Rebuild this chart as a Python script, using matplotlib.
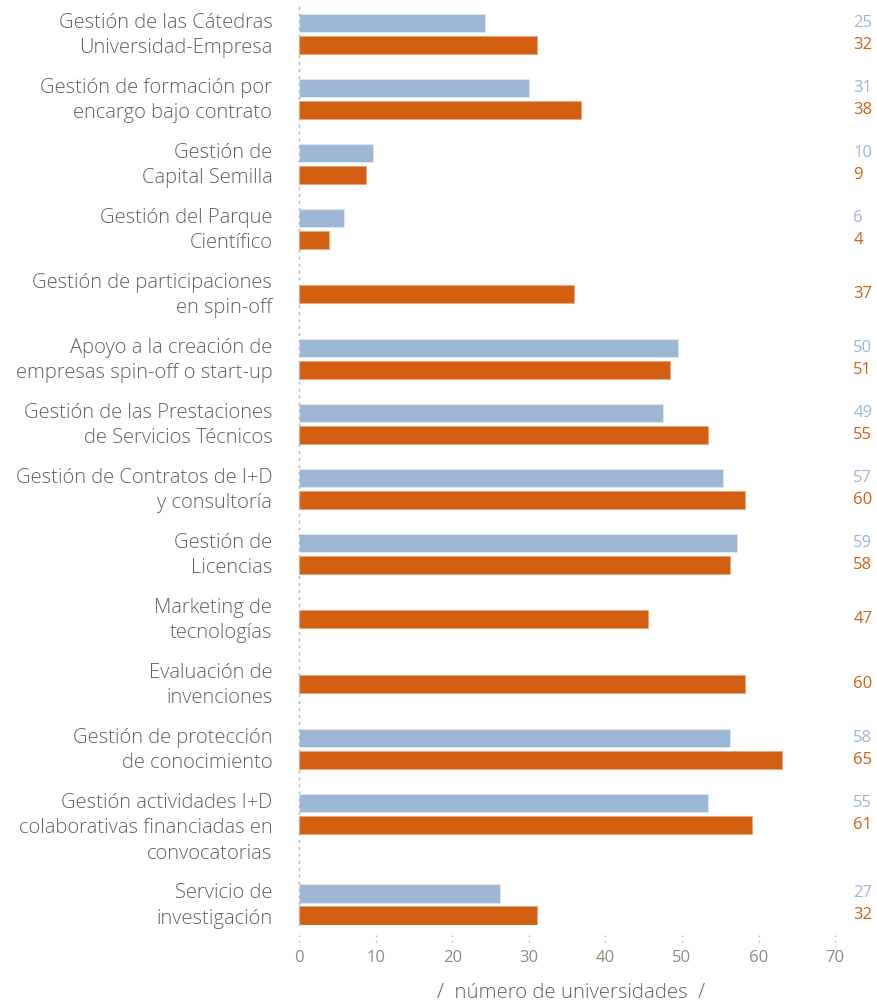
import matplotlib
matplotlib.use('Agg')
import matplotlib.pyplot as plt
import matplotlib.transforms as mtransforms
import numpy as np

plt.rcParams['font.family'] = ['Open Sans', 'DejaVu Sans']

# Categories (top to bottom)
categories = [
    "Gestión de las Cátedras\nUniversidad-Empresa",
    "Gestión de formación por\nencargo bajo contrato",
    "Gestión de\nCapital Semilla",
    "Gestión del Parque\nCientífico",
    "Gestión de participaciones\nen spin-off",
    "Apoyo a la creación de\nempresas spin-off o start-up",
    "Gestión de las Prestaciones\nde Servicios Técnicos",
    "Gestión de Contratos de I+D\ny consultoría",
    "Gestión de\nLicencias",
    "Marketing de\ntecnologías",
    "Evaluación de\ninvenciones",
    "Gestión de protección\nde conocimiento",
    "Gestión actividades I+D\ncolaborativas financiadas en\nconvocatorias",
    "Servicio de\ninvestigación",
]
# bar lengths as drawn (None = no bar)
blue_vals = [25, 31, 10, 6, None, 51, 49, 57, 59, None, None, 58, 55, 27]
orange_vals = [32, 38, 9, 4, 37, 50, 55, 60, 58, 47, 60, 65, 61, 32]
# numbers printed on the right
blue_labels = ["25", "31", "10", "6", "", "50", "49", "57", "59", "", "", "58", "55", "27"]
orange_labels = ["32", "38", "9", "4", "37", "51", "55", "60", "58", "47", "60", "65", "61", "32"]
tick_values = [0, 10, 20, 30, 40, 50, 60, 70]

BLUE = '#9db7d5'
ORANGE = '#d35f13'
TEXT = '#606060'
TICK = '#8f8b78'

W, H = 878, 1005
fig = plt.figure(figsize=(W / 100, H / 100), dpi=100)

px_unit = 7.43        # bar pixels per value
tick_px_unit = 7.66   # axis pixels per tick unit
x0_px, y_top_px, y_bot_px = 299, 3, 925
xmax = 73
ax = fig.add_axes([x0_px / W, 1 - y_bot_px / H, xmax * px_unit / W, (y_bot_px - y_top_px) / H])

# group centres: extra room when a label has more than two lines
line_u = 0.39
nlines = [c.count('\n') + 1 for c in categories]
centers = [0.0]
for n in nlines[:-1]:
    centers.append(centers[-1] + 1 + line_u * (n - 2))
centers = np.array(centers)

bh = 0.29
off = 0.17
vx = 74.6
for i, c in enumerate(centers):
    b = blue_vals[i]
    o = orange_vals[i]
    if b is not None:
        ax.barh(c - off, b, height=bh, color=BLUE, edgecolor='#dfe7f1', linewidth=0.6)
        ax.barh(c + off, o, height=bh, color=ORANGE, edgecolor='#eba57a', linewidth=0.6)
        ax.text(vx, c - off, blue_labels[i], color=BLUE, fontsize=12, va='center', ha='left')
        ax.text(vx, c + off, orange_labels[i], color=ORANGE, fontsize=12, va='center', ha='left')
    else:
        ax.barh(c, o, height=bh, color=ORANGE, edgecolor='#eba57a', linewidth=0.6)
        ax.text(vx, c, orange_labels[i], color=ORANGE, fontsize=12, va='center', ha='left')
    ax.text(-3.6, c + 0.025 + line_u * (nlines[i] - 2) / 2, categories[i], ha='right',
            va='center', multialignment='right', fontsize=14.5, color=TEXT,
            linespacing=1.36, fontweight='light')

ax.set_xlim(0, xmax)
ax.set_ylim((y_bot_px - 34) / 65, -(34 - y_top_px) / 65)
ax.set_yticks([])
ax.set_xticks([])
for s in ['top', 'right', 'bottom']:
    ax.spines[s].set_visible(False)
ax.spines['left'].set_linestyle((0, (1, 4)))
ax.spines['left'].set_color('#b5b5b5')
ax.spines['left'].set_linewidth(1)

# tick axis uses a slightly different scale than the bars
ratio = tick_px_unit / px_unit
sec = ax.secondary_xaxis('bottom', functions=(lambda x: x / ratio, lambda t: t * ratio))
sec.set_xticks(tick_values)
sec.tick_params(length=0, pad=18, labelsize=12, labelcolor=TICK)
sec.spines['bottom'].set_visible(False)

trans = mtransforms.blended_transform_factory(ax.transData, ax.transAxes)
ax.vlines([t * ratio for t in tick_values], -17 / 922, -7 / 922, transform=trans,
          colors='#b5b5b5', linestyles=(0, (1, 3)), linewidth=1, clip_on=False)

fig.text(571 / W, 1 - 993 / H, "/  número de universidades  /", ha='center', va='center',
         fontsize=14.7, color=TEXT, fontweight='light')

fig.savefig('out.png', dpi=100)
